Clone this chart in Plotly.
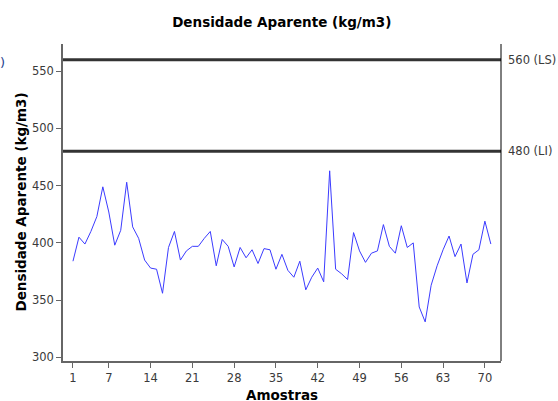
import plotly.graph_objects as go

amostras = list(range(1, 72))
densidade = [384, 405, 399, 410, 423, 449, 427, 398, 411, 453,
             414, 404, 385, 378, 377, 356, 396, 410, 385, 393,
             397, 397, 404, 410, 380, 403, 397, 379, 396, 387,
             394, 382, 395, 394, 377, 390, 376, 370, 384, 359,
             370, 378, 366, 463, 377, 373, 368, 409, 393, 383,
             391, 393, 416, 397, 391, 415, 396, 400, 344, 331,
             363, 380, 394, 406, 388, 399, 365, 390, 394, 419,
             399]
limite_superior = 560
limite_inferior = 480
x_ticks = [1, 7, 14, 21, 28, 35, 42, 49, 56, 63, 70]
y_ticks = [300, 350, 400, 450, 500, 550]

font_family = "DejaVu Sans"
tick_color = "#3a3a3a"

fig = go.Figure()
fig.add_trace(go.Scatter(x=amostras, y=densidade, mode="lines",
                         line=dict(color="#3b3bff", width=1)))
for lim in (limite_superior, limite_inferior):
    fig.add_trace(go.Scatter(x=[-0.67, 72.7], y=[lim, lim], mode="lines",
                             line=dict(color="#333333", width=3)))

fig.add_shape(type="line", xref="paper", yref="paper", x0=1, x1=1, y0=0, y1=1,
              line=dict(color="black", width=1))

fig.add_annotation(text="560 (LS)", xref="paper", x=1, xshift=5, xanchor="left",
                   y=limite_superior, yref="y", showarrow=False,
                   font=dict(family=font_family, size=11.5, color=tick_color))
fig.add_annotation(text="480 (LI)", xref="paper", x=1, xshift=5, xanchor="left",
                   y=limite_inferior, yref="y", showarrow=False,
                   font=dict(family=font_family, size=11.5, color=tick_color))
fig.add_annotation(text="Densidade Aparente (kg/m3)", xref="paper", yref="paper",
                   x=-0.098, y=0.5, textangle=-90, showarrow=False,
                   xanchor="center", yanchor="middle",
                   font=dict(family=font_family, size=13.5, color="black", weight="bold"))
fig.add_annotation(text="Amostras", xref="paper", yref="paper",
                   x=0.5, y=0, yshift=-34, showarrow=False,
                   xanchor="center", yanchor="middle",
                   font=dict(family=font_family, size=13.5, color="black", weight="bold"))
fig.add_annotation(text=")", xref="paper", yref="paper",
                   x=-0.137, y=0.943, showarrow=False,
                   xanchor="center", yanchor="middle",
                   font=dict(family=font_family, size=13, color="#1f3f8f"))

fig.update_layout(
    width=558, height=401,
    margin=dict(l=63, r=57, t=44, b=40),
    paper_bgcolor="white", plot_bgcolor="white",
    showlegend=False,
    title=dict(text="Densidade Aparente (kg/m3)", x=0.505, xanchor="center",
               y=0.945, yanchor="middle",
               font=dict(family=font_family, size=13.5, color="black", weight="bold")),
    xaxis=dict(range=[-0.67, 72.7], tickvals=x_ticks, ticks="outside", ticklen=5,
               tickcolor="#666", showgrid=False, zeroline=False,
               showline=True, linecolor="#666", linewidth=2,
               tickfont=dict(family=font_family, size=11.5, color=tick_color)),
    yaxis=dict(range=[296.8, 573.8], tickvals=y_ticks, ticks="outside", ticklen=5,
               tickcolor="#666", showgrid=False, zeroline=False,
               showline=True, linecolor="#666", linewidth=1.5,
               tickfont=dict(family=font_family, size=11.5, color=tick_color)),
)

fig.write_html("out.html", config={"displayModeBar": False},
               post_script="document.body.style.margin='0';document.body.style.overflow='hidden';")
